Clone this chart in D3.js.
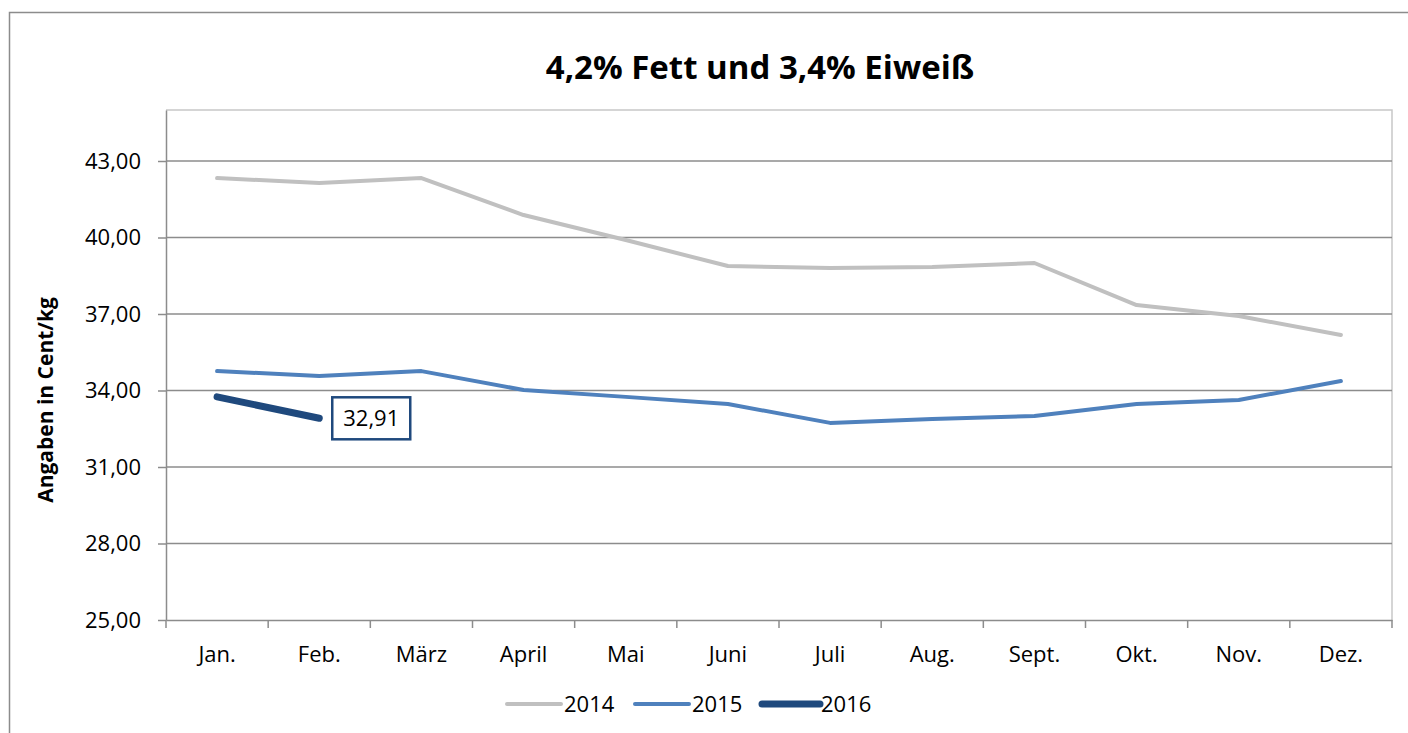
<!DOCTYPE html>
<html lang="de">
	<head>
		<meta charset="utf-8">
		<title>Milchpreis 4,2% Fett und 3,4% Eiweiß</title>
		<script src="https://cdn.jsdelivr.net/npm/d3@7"></script>
		<style>
			body { margin: 0; background: #fff; }
			text { font-family: "Open Sans", sans-serif; }
		</style>
	</head>
	<body>
		<script>
			// Daten
			var months = ['Jan.','Feb.','März','April','Mai','Juni','Juli','Aug.','Sept.','Okt.','Nov.','Dez.']
			var v2014 = [42.33, 42.14, 42.33, 40.88, 39.90, 38.88, 38.80, 38.84, 39.00, 37.35, 36.92, 36.18]
			var v2015 = [34.76, 34.57, 34.76, 34.02, 33.75, 33.47, 32.73, 32.88, 33.00, 33.47, 33.63, 34.37]
			var v2016 = [33.75, 32.91]
			var yTicks = [25, 28, 31, 34, 37, 40, 43]

			var series = [
				{name:'2014', values:v2014, color:'#c0c0c0', width:4},
				{name:'2015', values:v2015, color:'#4f81bd', width:4},
				{name:'2016', values:v2016, color:'#1f497d', width:7}
			]

			var w = 1408, h = 733
			var pLeft = 166, pRight = 1392, pTop = 110, pBottom = 620
			var fs = 22

			var x = d3.scaleBand().domain(months).range([pLeft, pRight])
			var y = d3.scaleLinear().domain([25, 45]).range([pBottom, pTop])
			var fmt = d => d.toFixed(2).replace('.', ',')

			var svg = d3.select('body').append('svg')
				.attr('width', w).attr('height', h)

			// outer frame
			svg.append('rect')
				.attr('x', 9.5).attr('y', 12.5)
				.attr('width', w + 10).attr('height', h + 10)
				.attr('fill', 'none').attr('stroke', '#8c8c8c').attr('stroke-width', 1.5)

			// plot frame (top/right)
			svg.append('path')
				.attr('d', `M${pLeft},${pTop}H${pRight}V${pBottom}`)
				.attr('fill', 'none').attr('stroke', '#c8c8c8').attr('stroke-width', 1.5)

			// grid
			svg.append('g')
				.selectAll('line')
				.data(yTicks.slice(1))
				.join('line')
					.attr('x1', pLeft).attr('x2', pRight)
					.attr('y1', d => y(d)).attr('y2', d => y(d))
					.attr('stroke', '#8c8c8c').attr('stroke-width', 1.5)

			// y axis
			svg.append('g')
				.attr('transform', `translate(${pLeft},0)`)
				.call(d3.axisLeft(y).tickValues(yTicks).tickFormat(fmt).tickSizeInner(8).tickSizeOuter(0).tickPadding(17))
				.call(g => g.selectAll('line,path').attr('stroke', '#8c8c8c').attr('stroke-width', 1.5))
				.call(g => g.selectAll('text').attr('font-size', fs).attr('fill', '#000').attr('font-family', '"Open Sans", sans-serif'))

			// x axis
			svg.append('g')
				.attr('transform', `translate(0,${pBottom})`)
				.call(d3.axisBottom(x).tickSize(0).tickPadding(26))
				.call(g => g.select('.domain').attr('stroke', '#8c8c8c').attr('stroke-width', 1.5))
				.call(g => g.selectAll('text').attr('font-size', fs).attr('fill', '#000').attr('font-family', '"Open Sans", sans-serif'))
				.call(g => g.selectAll('.tick').append('line')
					.attr('x1', x.bandwidth()/2).attr('x2', x.bandwidth()/2)
					.attr('y1', 0).attr('y2', 8)
					.attr('stroke', '#8c8c8c').attr('stroke-width', 1.5))
				.call(g => g.append('line')
					.attr('x1', pLeft).attr('x2', pLeft).attr('y1', 0).attr('y2', 8)
					.attr('stroke', '#8c8c8c').attr('stroke-width', 1.5))

			// lines
			var line = d3.line()
				.x((d, i) => x(months[i]) + x.bandwidth()/2)
				.y(d => y(d))

			svg.append('g')
				.selectAll('path')
				.data(series)
				.join('path')
					.attr('d', d => line(d.values))
					.attr('fill', 'none')
					.attr('stroke', d => d.color)
					.attr('stroke-width', d => d.width)
					.attr('stroke-linecap', 'round')
					.attr('stroke-linejoin', 'round')

			// data label for last 2016 value
			var last = v2016.length - 1
			var lx = x(months[last]) + x.bandwidth()/2 + 13
			var ly = y(v2016[last])
			svg.append('rect')
				.attr('x', lx).attr('y', ly - 21)
				.attr('width', 78).attr('height', 42)
				.attr('fill', '#fff').attr('stroke', '#1f497d').attr('stroke-width', 2.5)
			svg.append('text')
				.attr('x', lx + 39).attr('y', ly + 8)
				.attr('text-anchor', 'middle').attr('font-size', fs)
				.text(fmt(v2016[last]))

			// title
			svg.append('text')
				.attr('x', 760).attr('y', 79)
				.attr('text-anchor', 'middle')
				.attr('font-size', 33).attr('font-weight', 'bold')
				.text('4,2% Fett und 3,4% Eiweiß')

			// y label
			svg.append('text')
				.attr('transform', `translate(53,${(pTop + pBottom)/2 + 35}) rotate(-90)`)
				.attr('text-anchor', 'middle')
				.attr('font-size', 21).attr('font-weight', 'bold')
				.text('Angaben in Cent/kg')

			// legend
			var legendX = [507, 635, 762]
			var lg = svg.append('g')
				.selectAll('g')
				.data(series)
				.join('g')
					.attr('transform', (d, i) => `translate(${legendX[i]},704)`)
			lg.append('line')
				.attr('x1', 0).attr('x2', d => d.width > 5 ? 58 : 54)
				.attr('stroke', d => d.color)
				.attr('stroke-width', d => d.width)
				.attr('stroke-linecap', 'round')
			lg.append('text')
				.attr('x', d => d.width > 5 ? 59 : 57).attr('y', 8)
				.attr('font-size', fs)
				.text(d => d.name)
		</script>
	</body>
</html>
